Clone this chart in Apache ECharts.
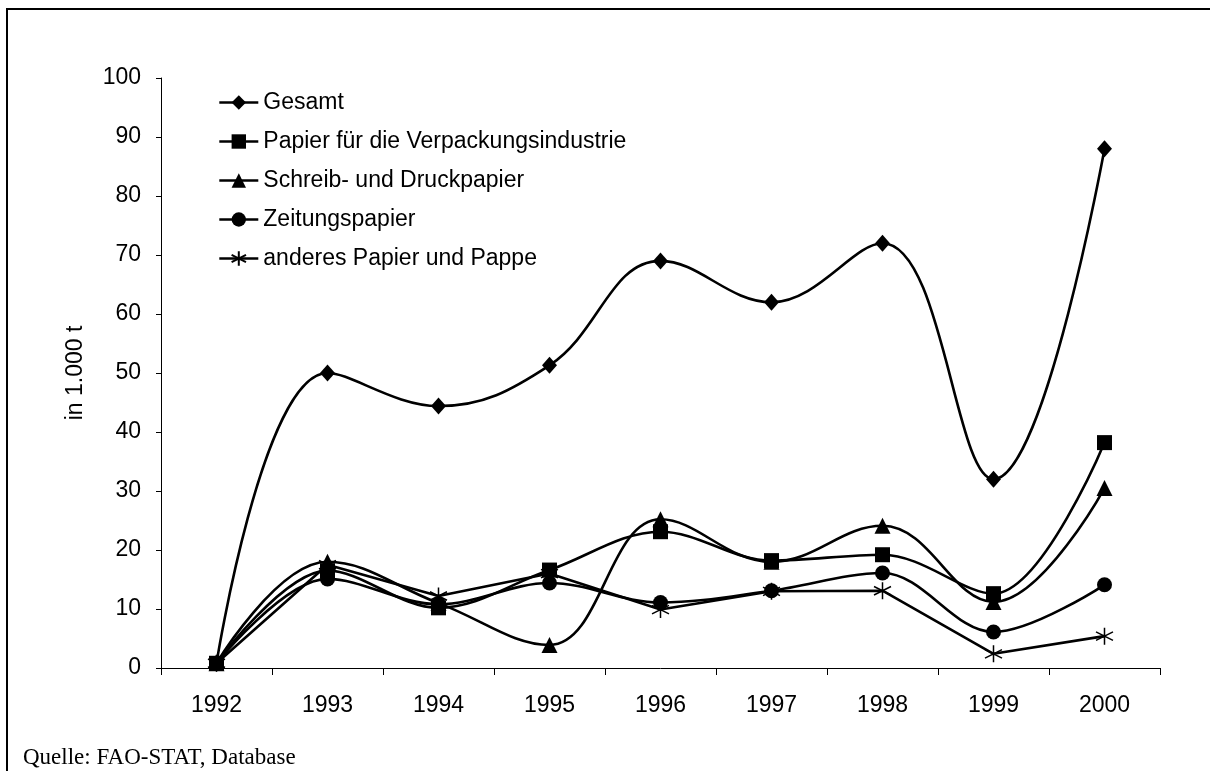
<!DOCTYPE html>
<html>
<head>
<meta charset="utf-8">
<script src="https://cdn.jsdelivr.net/npm/echarts@6/dist/echarts.min.js"></script>
<style>
  html, body { margin: 0; padding: 0; background: #fff; }
  #chart { width: 1210px; height: 771px; }
</style>
</head>
<body>
<div id="chart"></div>
<script>
// Jahre (Kategorien)
const years = ['1992', '1993', '1994', '1995', '1996', '1997', '1998', '1999', '2000']

// Werte in 1.000 t
const gesamt = [0.8, 50, 44.4, 51.3, 69, 62, 72, 32, 88]
const verpackung = [0.8, 16.5, 10.2, 16.6, 23.1, 18.2, 19.2, 12.6, 38.2]
const schreibDruck = [0.8, 18, 11, 3.9, 25.2, 18, 24.1, 11.2, 30.5]
const zeitung = [0.8, 15.1, 10.8, 14.4, 11.1, 13.1, 16.1, 6.1, 14.1]
const anderes = [0.8, 17.5, 12.2, 16, 9.9, 13, 13.1, 2.4, 5.4]

const seriesNames = [
  'Gesamt',
  'Papier für die Verpackungsindustrie',
  'Schreib- und Druckpapier',
  'Zeitungspapier',
  'anderes Papier und Pappe'
]

const yTicks = [0, 10, 20, 30, 40, 50, 60, 70, 80, 90, 100]

// Sternchen (6 Strahlen) als Pfad
const starPath = 'path://M0,-1L0,1M-0.87,-0.5L0.87,0.5M-0.87,0.5L0.87,-0.5'

const font = '"Liberation Sans", Arial, sans-serif'

function makeLine(name, data, symbol, size, smooth, extra) {
  return Object.assign({
    name: name,
    type: 'line',
    data: data,
    symbol: symbol,
    symbolSize: size,
    smooth: smooth,
    lineStyle: { color: '#000', width: 2.6 },
    itemStyle: { color: '#000' },
    emphasis: { disabled: true },
    animation: false,
    z: 3
  }, extra || {})
}

let myChart = echarts.init(document.getElementById('chart'))

let options = {
  backgroundColor: '#fff',
  animation: false,
  grid: { left: 161, right: 50, top: 78, bottom: 103, containLabel: false },
  graphic: [
    {
      type: 'rect',
      shape: { x: 7, y: 9, width: 1300, height: 900 },
      style: { fill: 'none', stroke: '#000', lineWidth: 2 },
      silent: true
    },
    {
      type: 'text',
      left: 23,
      top: 746,
      style: {
        text: 'Quelle: FAO-STAT, Database',
        font: '23px "Liberation Serif", "Times New Roman", serif',
        fill: '#000'
      }
    }
  ],
  legend: {
    orient: 'vertical',
    left: 213,
    top: 84,
    itemWidth: 39,
    itemHeight: 18,
    itemGap: 12,
    lineStyle: { width: 2.6, color: '#000' },
    textStyle: { color: '#000', fontSize: 23, fontFamily: font, lineHeight: 27 },
    data: seriesNames
  },
  xAxis: {
    type: 'category',
    data: years,
    boundaryGap: true,
    axisLine: { lineStyle: { color: '#000', width: 1 } },
    axisTick: { show: true, length: 7, inside: false, lineStyle: { color: '#000' } },
    axisLabel: { color: '#000', fontSize: 23, fontFamily: font, margin: 26 },
    splitLine: { show: false }
  },
  yAxis: {
    type: 'value',
    min: yTicks[0],
    max: yTicks[yTicks.length - 1],
    interval: 10,
    name: 'in 1.000 t',
    nameLocation: 'middle',
    nameGap: 74,
    nameRotate: 90,
    nameTextStyle: { color: '#000', fontSize: 23, fontFamily: font },
    axisLine: { show: true, lineStyle: { color: '#000', width: 1 } },
    axisTick: { show: true, length: 5, lineStyle: { color: '#000' } },
    axisLabel: { color: '#000', fontSize: 23, fontFamily: font, margin: 20 },
    splitLine: { show: false }
  },
  series: [
    makeLine(seriesNames[0], gesamt, 'diamond', [15, 17], 0.4),
    makeLine(seriesNames[1], verpackung, 'rect', 15, 0.35),
    makeLine(seriesNames[2], schreibDruck, 'triangle', 16, 0.4),
    makeLine(seriesNames[3], zeitung, 'circle', 15, 0.35),
    makeLine(seriesNames[4], anderes, starPath, 17, false, {
      itemStyle: { color: '#000', borderColor: '#000', borderWidth: 1.5 }
    })
  ]
}

myChart.setOption(options)
</script>
</body>
</html>
